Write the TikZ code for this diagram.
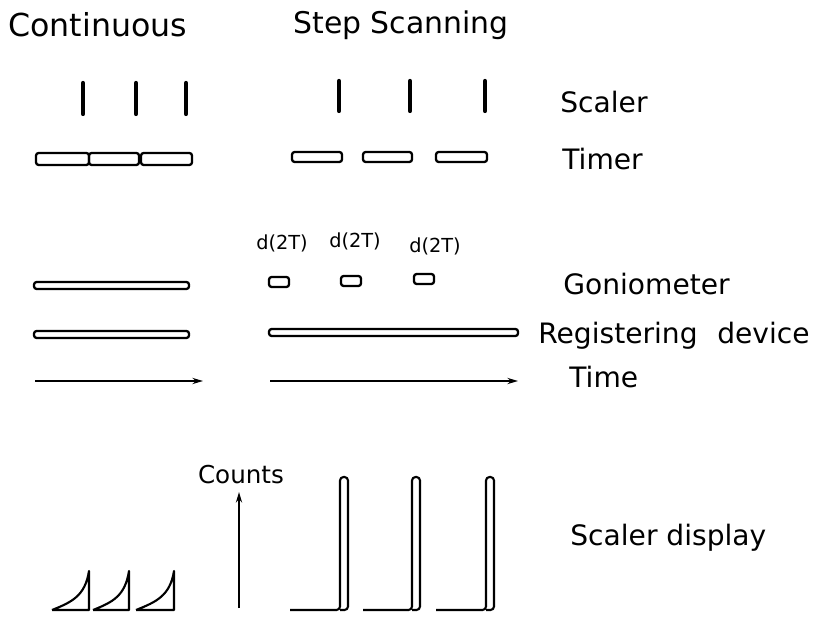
\documentclass[tikz,border=0pt]{standalone}
\usepackage{fontspec}
\setmainfont{DejaVu Sans}
\usepackage{tikz}
\usetikzlibrary{arrows.meta}
\tikzset{
  title/.style={anchor=base west, inner sep=0pt, font=\fontsize{17}{20}\selectfont},
  rowlabel/.style={anchor=base west, inner sep=0pt, font=\fontsize{16}{19}\selectfont},
  steplabel/.style={anchor=base, inner sep=0pt, font=\fontsize{11}{13}\selectfont},
  bar/.style={draw, line width=1.3pt, rounded corners=1.5pt},
  pulse/.style={line width=2.4pt, line cap=round},
  trace/.style={line width=1.2pt, line join=round},
  timeaxis/.style={line width=1.1pt, -{Stealth[length=6pt,width=3.5pt]}},
}
\begin{document}
\begin{tikzpicture}[x=0.02cm, y=-0.02cm]
\useasboundingbox (0,0) rectangle (834,624);
% Headings
\node[title, font=\fontsize{18}{21}\selectfont] (cont) at (8,37) {Continuous};
\node[title] (step) at (293,34) {Step Scanning};
% Scaler
\foreach \x in {83,136,186} \draw[pulse] (\x,83) -- (\x,114);
\foreach \x in {339,410,485} \draw[pulse] (\x,81) -- (\x,111);
\node[rowlabel] (scaler) at (560,113) {Scaler};
% Timer
\foreach \a/\b in {36/89,89/139,141/192} \draw[bar] (\a,153) rectangle (\b,165);
\foreach \a/\b in {292/342,363/412,436/487} \draw[bar] (\a,152) rectangle (\b,162);
\node[rowlabel] (timer) at (562,170) {Timer};
% Goniometer
\draw[bar] (34,282) rectangle (189,289);
\foreach \a/\y/\lx/\ly/\n in {269/277/282/250/1,341/276/355/248/2,414/274/435/253/3} {
  \draw[bar] (\a,\y) rectangle (\a+20,\y+10);
  \node[steplabel] (dtt\n) at (\lx,\ly) {d(2T)};
}
\node[rowlabel] (gonio) at (563,295) {Goniometer};
% Registering device
\draw[bar] (34,331) rectangle (189,338);
\draw[bar] (269,329) rectangle (518,336);
\node[rowlabel] (regdev) at (538,344) {Registering\hspace{0.7em}device};
% Time
\draw[timeaxis] (35,381) -- (203,381);
\draw[timeaxis] (270,381) -- (518,381);
\node[rowlabel] (time) at (569,387) {Time};
% Scaler display, continuous
\foreach \a/\b in {52/89,93/129,136/174}
  \draw[trace] (\a,610) -- (\b,610) -- (\b,571) .. controls (\b-4,596) and (\a+20,602) .. (\a,610);
% Scaler display, step scanning
\node[anchor=base, inner sep=0pt, font=\fontsize{14}{17}\selectfont] (counts) at (241,483) {Counts};
\coordinate (cbase) at (239,608);
\draw[timeaxis] (cbase) -- ++(0,-116);
\foreach \a/\b in {290/340,363/412,436/486}
  \draw[trace, rounded corners=2pt] (\a,610) -- (\b,610) -- (\b,477) -- (\b+8,477) -- (\b+8,610) -- (\b,610);
\node[rowlabel] (display) at (570,545) {Scaler display};
\end{tikzpicture}
\end{document}
